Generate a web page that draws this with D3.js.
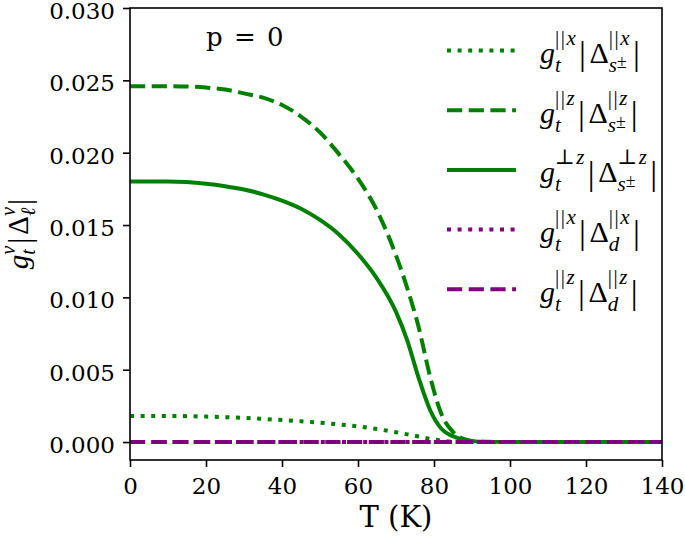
<!DOCTYPE html>
<html>
<head>
<meta charset="utf-8">
<script src="https://cdn.jsdelivr.net/npm/d3@7"></script>
<style>
  body { margin: 0; background: #fff; }
  svg { display: block; }
  .tick text { font-family: "DejaVu Serif", serif; font-size: 23px; fill: #000; }
  .math { font-family: "Liberation Serif", "DejaVu Serif", serif; fill: #000; }
</style>
</head>
<body>
<svg id="chart" width="685" height="536"></svg>
<script>
// temperature grid (K)
const temps = [0, 10, 20, 25, 30, 35, 40, 45, 50, 55, 60, 65, 70, 73, 76, 79, 82, 85, 88, 92, 100, 120, 140];

const sPmXDotted = [0.0018, 0.0018, 0.00176, 0.00172, 0.00167, 0.0016, 0.00152, 0.00144, 0.00134, 0.00122, 0.00108, 0.0009, 0.00068, 0.00053, 0.00038, 0.00022, 0.0001, 0.00003, 0, 0, 0, 0, 0];
const sPmZDashed = [0.0246, 0.0246, 0.0245, 0.02437, 0.0241, 0.0238, 0.0233, 0.0225, 0.0214, 0.0199, 0.0182, 0.0160, 0.0129, 0.0106, 0.0079, 0.0045, 0.0019, 0.0007, 0.0002, 0.00002, 0, 0, 0];
const sPmPerpZ = [0.0180, 0.0180, 0.01785, 0.01768, 0.01745, 0.01712, 0.01668, 0.01612, 0.01535, 0.01435, 0.0130, 0.0113, 0.0090, 0.0070, 0.0044, 0.0022, 0.0009, 0.0004, 0.00015, 0.00003, 0, 0, 0];
const dX = [0, 0, 0, 0, 0, 0, 0, 0, 0, 0, 0, 0, 0, 0, 0, 0, 0, 0, 0, 0, 0, 0, 0];
const dZ = [0, 0, 0, 0, 0, 0, 0, 0, 0, 0, 0, 0, 0, 0, 0, 0, 0, 0, 0, 0, 0, 0, 0];

const xTicks = [0, 20, 40, 60, 80, 100, 120, 140];
const yTicks = [0, 0.005, 0.010, 0.015, 0.020, 0.025, 0.030];

const series = [
  { values: sPmXDotted, color: "#008000", dash: "4,6.6",  sup: "x", sub: "s" },
  { values: sPmZDashed, color: "#008000", dash: "15.2,6.5", sup: "z", sub: "s" },
  { values: sPmPerpZ,   color: "#008000", dash: null,     sup: "z", sub: "s", perp: true },
  { values: dX,         color: "#800080", dash: "4,6.6",  sup: "x", sub: "d" },
  { values: dZ,         color: "#800080", dash: "15.2,6.5", sup: "z", sub: "d" }
];

const svg = d3.select("#chart");
const mLeft = 130, mRight = 662, mTop = 8, mBottom = 460;

const x = d3.scaleLinear().domain([0, 140]).range([mLeft, mRight]);
const y = d3.scaleLinear().domain([-0.00124, 0.030]).range([mBottom, mTop]);

// curves
const line = d3.line()
  .x((d, i) => x(temps[i]))
  .y(d => y(d))
  .curve(d3.curveMonotoneX);

const plot = svg.append("g");
series.forEach(s => {
  plot.append("path")
    .attr("d", line(s.values))
    .attr("fill", "none")
    .attr("stroke", s.color)
    .attr("stroke-width", 4)
    .attr("stroke-dasharray", s.dash)
    .attr("stroke-linecap", "butt");
});

// axes
const xAxis = svg.append("g")
  .attr("transform", `translate(0,${mBottom})`)
  .call(d3.axisBottom(x).tickValues(xTicks).tickSize(7).tickPadding(11));
const yAxis = svg.append("g")
  .attr("transform", `translate(${mLeft},0)`)
  .call(d3.axisLeft(y).tickValues(yTicks).tickFormat(d3.format(".3f")).tickSize(7).tickPadding(8));
[xAxis, yAxis].forEach(a => {
  a.select(".domain").remove();
  a.selectAll(".tick line").attr("stroke", "#000").attr("stroke-width", 1.6);
});
yAxis.selectAll(".tick text").attr("dy", "0.45em");

svg.append("rect")
  .attr("x", mLeft).attr("y", mTop)
  .attr("width", mRight - mLeft).attr("height", mBottom - mTop)
  .attr("fill", "none").attr("stroke", "#000").attr("stroke-width", 1.6);

// x label
svg.append("text")
  .attr("x", (mLeft + mRight) / 2).attr("y", 527)
  .attr("text-anchor", "middle")
  .style("font-family", "DejaVu Serif").style("font-size", "29px")
  .text("T (K)");

// p=0
svg.append("text")
  .attr("x", 206).attr("y", 46)
  .style("font-family", "DejaVu Serif").style("font-size", "26px")
  .style("word-spacing", "3px")
  .text("p = 0");

// math text helper: pieces are [text, italic, size factor, dy]
function mathRow(g, x0, y0, fs, items, opt) {
  let cx = x0;
  const put = (segs, scale, dy, ls) => {
    const t = g.append("text").attr("class", "math")
      .attr("x", cx).attr("y", y0 + dy * fs)
      .style("font-size", (fs * scale) + "px")
      .style("letter-spacing", ls ? ls + "px" : null);
    segs.forEach(([str, it, f, ddy]) => {
      t.append("tspan")
        .style("font-style", it ? "italic" : "normal")
        .style("font-size", f ? (fs * scale * f) + "px" : null)
        .attr("dy", ddy ? ddy * fs : null)
        .text(str);
    });
    return t.node().getComputedTextLength();
  };
  items.forEach(it => {
    if (it.base) {
      cx += put(it.base, it.scale || 1, it.dy || 0) + (it.gap || 0) * fs;
    } else {
      const w1 = put(it.sup, 0.7, opt.supDy, opt.ls);
      const w2 = put(it.sub, 0.7, opt.subDy);
      cx += Math.max(w1, w2) + 0.06 * fs;
    }
  });
  return cx - x0;
}

// legend
const legend = svg.append("g");
series.forEach((s, i) => {
  const ly = 50.5 + i * 59.7;
  legend.append("line")
    .attr("x1", 447).attr("x2", 516).attr("y1", ly).attr("y2", ly)
    .attr("stroke", s.color).attr("stroke-width", 4)
    .attr("stroke-dasharray", s.dash);
  const rel = s.perp ? "\u22A5" : "||";
  const sub = s.sub === "s" ? [["s", true], ["\u00B1", false, 0.85, -0.14]] : [["d", true]];
  mathRow(legend, 540, ly + 12.5, 30, [
    { base: [["g", true]] },
    { sup: [[rel, false], [s.sup, true]], sub: [["t", true]] },
    { base: [["|", false]], scale: 1.15, dy: 0.07, gap: 0.12 },
    { base: [["\u0394", false]] },
    { sup: [[rel, false], [s.sup, true]], sub: sub },
    { base: [["|", false]], scale: 1.15, dy: 0.07 }
  ], { supDy: -0.6, subDy: 0.3, ls: 1.5 });
});

// y label (rotated)
const yl = svg.append("g");
const ylw = mathRow(yl, 0, 0, 29, [
  { base: [["g", true]] },
  { sup: [["\u03BD", true]], sub: [["t", true]] },
  { base: [["|", false]], scale: 1.1, dy: 0.08, gap: 0.1 },
  { base: [["\u0394", false]] },
  { sup: [["\u03BD", true]], sub: [["\u2113", true]] },
  { base: [["|", false]], scale: 1.1, dy: 0.08 }
], { supDy: -0.46, subDy: 0.25, ls: 0 });
yl.attr("transform", `translate(28,${(mTop + mBottom) / 2 + ylw / 2}) rotate(-90)`);
</script>
</body>
</html>
